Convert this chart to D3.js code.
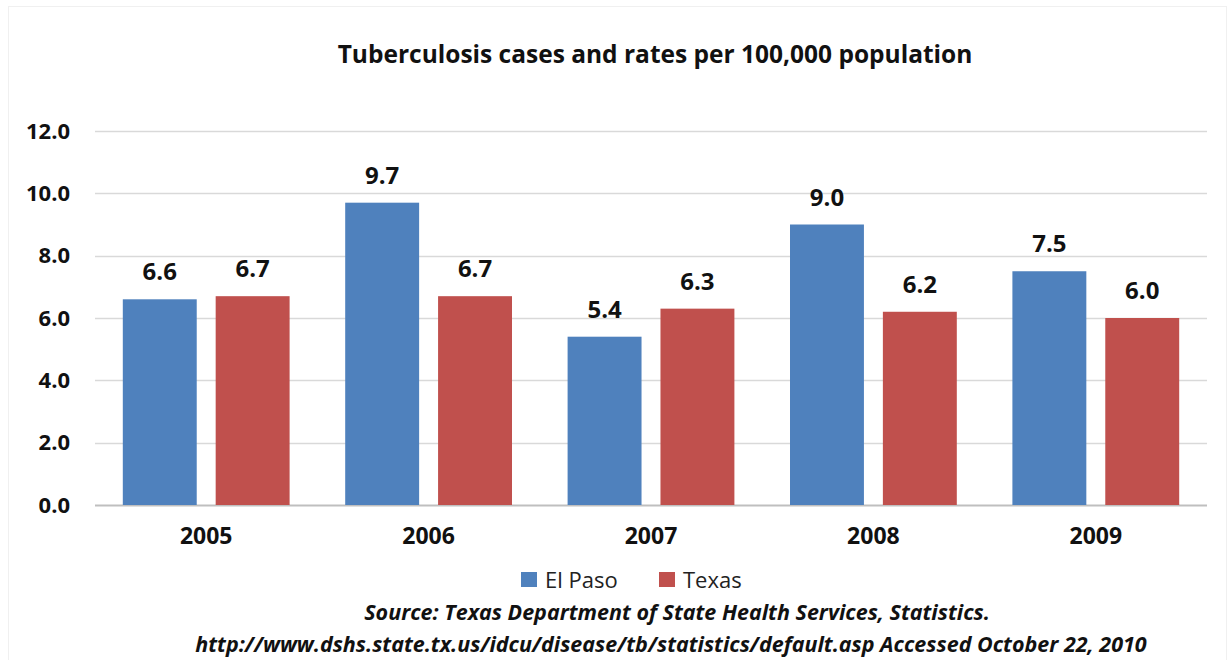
<!DOCTYPE html>
<html>
<head>
<meta charset="utf-8">
<script src="https://cdn.jsdelivr.net/npm/d3@7.9.0/dist/d3.min.js"></script>
<style>
  body { margin: 0; background: #fff; }
  svg { display: block; font-family: 'Open Sans', sans-serif; }
</style>
</head>
<body>
<svg id="chart" width="1228" height="660"></svg>
<script>
const years = ['2005', '2006', '2007', '2008', '2009'];
const seriesNames = ['El Paso', 'Texas'];
const elPaso = [6.6, 9.7, 5.4, 9.0, 7.5];
const texas = [6.7, 6.7, 6.3, 6.2, 6.0];
const yTicks = [0, 2, 4, 6, 8, 10, 12];
const colors = ['#4f81bd', '#c0504d'];

const svg = d3.select('#chart');
const width = 1228, height = 660;
const area = { left: 95, right: 1207, top: 131, bottom: 505 };

// faint outer frame
svg.append('rect')
    .attr('x', 8.5).attr('y', 6.5)
    .attr('width', width - 10).attr('height', height - 6)
    .attr('fill', 'none').attr('stroke', '#f0f0f0');

const x0 = d3.scaleBand()
    .domain(years)
    .range([area.left, area.right])
    .paddingInner(0.25)
    .paddingOuter(0.125);

const x1 = d3.scaleBand()
    .domain(seriesNames)
    .range([0, x0.bandwidth()])
    .paddingInner(0.204);

const y = d3.scaleLinear().domain([0, 12]).range([area.bottom, area.top]);

// gridlines
svg.append('g')
    .attr('class', 'gridlines')
    .selectAll('line')
    .data(yTicks)
    .join('line')
    .attr('x1', area.left).attr('x2', area.right)
    .attr('y1', d => Math.round(y(d)) + 0.5).attr('y2', d => Math.round(y(d)) + 0.5)
    .attr('stroke', d => d === 0 ? '#bfbfbf' : '#d9d9d9')
    .attr('stroke-width', d => d === 0 ? 2 : 1.5);

// y axis labels
const yAxis = svg.append('g')
    .attr('transform', `translate(${area.left}, 0)`)
    .call(d3.axisLeft(y).tickValues(yTicks).tickFormat(d3.format('.1f')).tickSize(0).tickPadding(25));
yAxis.select('.domain').remove();
yAxis.selectAll('text')
    .attr('font-size', 22).attr('font-weight', 'bold').attr('fill', '#111')
    .attr('font-family', 'Open Sans, sans-serif');

// x axis labels
const xAxis = svg.append('g')
    .attr('transform', `translate(0, ${area.bottom})`)
    .call(d3.axisBottom(x0).tickSize(0).tickPadding(23));
xAxis.select('.domain').remove();
xAxis.selectAll('text')
    .attr('font-size', 23).attr('font-weight', 'bold').attr('fill', '#111')
    .attr('font-family', 'Open Sans, sans-serif');

const rows = years.map((yr, i) => ({ year: yr, values: [elPaso[i], texas[i]] }));

const groups = svg.append('g')
    .selectAll('g')
    .data(rows)
    .join('g')
    .attr('transform', d => `translate(${x0(d.year)}, 0)`);

groups.selectAll('rect')
    .data(d => d.values.map((v, i) => ({ name: seriesNames[i], value: v, i })))
    .join('rect')
    .attr('x', d => x1(d.name))
    .attr('y', d => y(d.value))
    .attr('width', x1.bandwidth())
    .attr('height', d => y(0) - y(d.value))
    .attr('fill', d => colors[d.i]);

groups.selectAll('text.lbl')
    .data(d => d.values.map((v, i) => ({ name: seriesNames[i], value: v })))
    .join('text')
    .attr('class', 'lbl')
    .attr('x', d => x1(d.name) + x1.bandwidth() / 2)
    .attr('y', d => y(d.value) - 19)
    .attr('text-anchor', 'middle')
    .attr('font-size', 24).attr('font-weight', 'bold').attr('fill', '#111')
    .text(d => d3.format('.1f')(d.value));

// title
svg.append('text')
    .attr('x', 655).attr('y', 63)
    .attr('text-anchor', 'middle')
    .attr('font-size', 24.5).attr('font-weight', 'bold').attr('fill', '#111')
    .text('Tuberculosis cases and rates per 100,000 population');

// legend
const legendX = [521, 659];
const legend = svg.append('g')
    .selectAll('g')
    .data(seriesNames)
    .join('g')
    .attr('transform', (d, i) => `translate(${legendX[i]}, 572)`);
legend.append('rect')
    .attr('width', 16).attr('height', 15)
    .attr('fill', (d, i) => colors[i]);
legend.append('text')
    .attr('x', 24).attr('y', 16)
    .attr('font-size', 22).attr('fill', '#222')
    .text(d => d);

// source
const sourceLines = [
    'Source: Texas Department of State Health Services, Statistics.',
    'http://www.dshs.state.tx.us/idcu/disease/tb/statistics/default.asp Accessed October 22, 2010'
];
svg.append('g')
    .selectAll('text')
    .data(sourceLines)
    .join('text')
    .attr('x', (d, i) => i === 0 ? 677 : 671)
    .attr('y', (d, i) => 620 + i * 32)
    .attr('text-anchor', 'middle')
    .attr('font-size', 21.5).attr('font-weight', 'bold').attr('font-style', 'italic')
    .attr('fill', '#111')
    .text(d => d);
</script>
</body>
</html>
